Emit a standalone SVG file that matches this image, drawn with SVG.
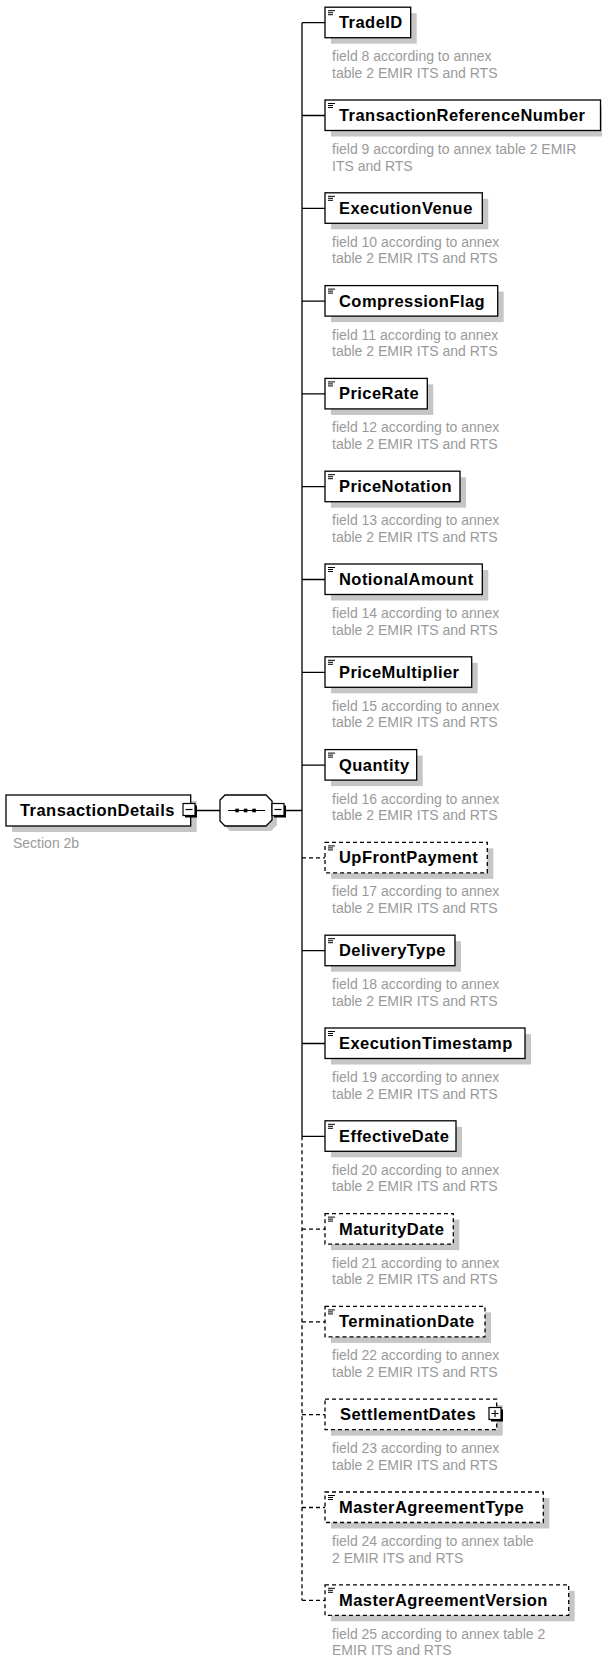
<svg xmlns="http://www.w3.org/2000/svg" xmlns:xlink="http://www.w3.org/1999/xlink" width="602" height="1658" viewBox="0 0 602 1658">
<style>
.bx{fill:#fff;stroke:#000;stroke-width:1.3}
.opt{stroke-dasharray:4 3}
.sh{fill:#c6c6c6}
.nm{font-family:"Liberation Sans",Arial,sans-serif;font-weight:bold;font-size:16.5px;letter-spacing:0.45px;fill:#000}
.ds{font-family:"Liberation Sans",Arial,sans-serif;font-size:14px;fill:#9a9a9a}
.ln{fill:none;stroke:#000;stroke-width:1.3}
.dl{fill:none;stroke:#000;stroke-width:1.3;stroke-dasharray:4 3}
</style>
<defs>
<path id="ic" d="M0 0.5h7M0 2.5h5M0 4.5h5" stroke="#000" stroke-width="1" fill="none"/>
<g id="mn"><rect x="2" y="2" width="12" height="12" fill="#000"/><rect x="0" y="0" width="12" height="12" fill="#fff" stroke="#000" stroke-width="1.2"/><path d="M2.5 6h7" stroke="#000" stroke-width="1.2"/></g>
<g id="pl"><rect x="2" y="2" width="12" height="12" fill="#000"/><rect x="0" y="0" width="12" height="12" fill="#fff" stroke="#000" stroke-width="1.2"/><path d="M2.5 6h7M6 2.5v7" stroke="#000" stroke-width="1.2"/></g>
</defs>
<g id="connectors">
<path class="ln" d="M197 810.5H220M286 810.5H302M302 22.7V1136.3"/>
<path class="dl" d="M302 1136.3V1600.3"/>
<path class="ln" d="M302 22.7H325M302 115.5H325M302 208.3H325M302 301.1H325M302 393.9H325M302 486.7H325M302 579.5H325M302 672.3H325M302 765.1H325M302 950.7H325M302 1043.5H325M302 1136.3H325"/>
<path class="dl" d="M302 857.9H325M302 1229.1H325M302 1321.9H325M302 1414.7H325M302 1507.5H325M302 1600.3H325"/>
</g>
<g id="TransactionDetails">
<rect class="sh" x="12" y="801" width="184.7" height="31"/>
<rect class="bx" x="6" y="795" width="184.7" height="31"/>
<text class="nm" x="20" y="816">TransactionDetails</text>
<use xlink:href="#mn" x="183" y="803.5"/>
<text class="ds" x="13" y="848">Section 2b</text>
</g>
<g id="sequence">
<polygon class="sh" points="225,800 230,800 271,800 277,806 277,825 271,831 230,831 225,826"/>
<polygon class="bx" points="220,800 225,795 266,795 272,801 272,820 266,826 225,826 220,821"/>
<path d="M228 810.5H265" stroke="#000" stroke-width="1.2"/>
<rect x="235.3" y="808.7" width="3.6" height="3.6" fill="#000"/>
<rect x="243.8" y="808.7" width="3.6" height="3.6" fill="#000"/>
<rect x="252.3" y="808.7" width="3.6" height="3.6" fill="#000"/>
<use xlink:href="#mn" x="272" y="803.5"/>
</g>
<g id="TradeID">
<rect class="sh" x="331" y="13.2" width="85.7" height="30.5"/>
<rect class="bx" x="325" y="7.2" width="85.7" height="30.5"/>
<use xlink:href="#ic" x="328" y="10.2"/>
<text class="nm" x="339" y="28.2">TradeID</text>
<text class="ds" x="332" y="61.2">field 8 according to annex</text>
<text class="ds" x="332" y="77.7">table 2 EMIR ITS and RTS</text>
</g>
<g id="TransactionReferenceNumber">
<rect class="sh" x="331" y="106" width="275.5" height="30.5"/>
<rect class="bx" x="325" y="100" width="275.5" height="30.5"/>
<use xlink:href="#ic" x="328" y="103"/>
<text class="nm" x="339" y="121">TransactionReferenceNumber</text>
<text class="ds" x="332" y="154">field 9 according to annex table 2 EMIR</text>
<text class="ds" x="332" y="170.5">ITS and RTS</text>
</g>
<g id="ExecutionVenue">
<rect class="sh" x="331" y="198.8" width="157.3" height="30.5"/>
<rect class="bx" x="325" y="192.8" width="157.3" height="30.5"/>
<use xlink:href="#ic" x="328" y="195.8"/>
<text class="nm" x="339" y="213.8">ExecutionVenue</text>
<text class="ds" x="332" y="246.8">field 10 according to annex</text>
<text class="ds" x="332" y="263.3">table 2 EMIR ITS and RTS</text>
</g>
<g id="CompressionFlag">
<rect class="sh" x="331" y="291.6" width="172.7" height="30.5"/>
<rect class="bx" x="325" y="285.6" width="172.7" height="30.5"/>
<use xlink:href="#ic" x="328" y="288.6"/>
<text class="nm" x="339" y="306.6">CompressionFlag</text>
<text class="ds" x="332" y="339.6">field 11 according to annex</text>
<text class="ds" x="332" y="356.1">table 2 EMIR ITS and RTS</text>
</g>
<g id="PriceRate">
<rect class="sh" x="331" y="384.4" width="102.3" height="30.5"/>
<rect class="bx" x="325" y="378.4" width="102.3" height="30.5"/>
<use xlink:href="#ic" x="328" y="381.4"/>
<text class="nm" x="339" y="399.4">PriceRate</text>
<text class="ds" x="332" y="432.4">field 12 according to annex</text>
<text class="ds" x="332" y="448.9">table 2 EMIR ITS and RTS</text>
</g>
<g id="PriceNotation">
<rect class="sh" x="331" y="477.2" width="135" height="30.5"/>
<rect class="bx" x="325" y="471.2" width="135" height="30.5"/>
<use xlink:href="#ic" x="328" y="474.2"/>
<text class="nm" x="339" y="492.2">PriceNotation</text>
<text class="ds" x="332" y="525.2">field 13 according to annex</text>
<text class="ds" x="332" y="541.7">table 2 EMIR ITS and RTS</text>
</g>
<g id="NotionalAmount">
<rect class="sh" x="331" y="570" width="157.3" height="30.5"/>
<rect class="bx" x="325" y="564" width="157.3" height="30.5"/>
<use xlink:href="#ic" x="328" y="567"/>
<text class="nm" x="339" y="585">NotionalAmount</text>
<text class="ds" x="332" y="618">field 14 according to annex</text>
<text class="ds" x="332" y="634.5">table 2 EMIR ITS and RTS</text>
</g>
<g id="PriceMultiplier">
<rect class="sh" x="331" y="662.8" width="146.7" height="30.5"/>
<rect class="bx" x="325" y="656.8" width="146.7" height="30.5"/>
<use xlink:href="#ic" x="328" y="659.8"/>
<text class="nm" x="339" y="677.8">PriceMultiplier</text>
<text class="ds" x="332" y="710.8">field 15 according to annex</text>
<text class="ds" x="332" y="727.3">table 2 EMIR ITS and RTS</text>
</g>
<g id="Quantity">
<rect class="sh" x="331" y="755.6" width="91.7" height="30.5"/>
<rect class="bx" x="325" y="749.6" width="91.7" height="30.5"/>
<use xlink:href="#ic" x="328" y="752.6"/>
<text class="nm" x="339" y="770.6">Quantity</text>
<text class="ds" x="332" y="803.6">field 16 according to annex</text>
<text class="ds" x="332" y="820.1">table 2 EMIR ITS and RTS</text>
</g>
<g id="UpFrontPayment">
<rect class="sh" x="331" y="848.4" width="162.3" height="30.5"/>
<rect class="bx opt" x="325" y="842.4" width="162.3" height="30.5"/>
<use xlink:href="#ic" x="328" y="845.4"/>
<text class="nm" x="339" y="863.4">UpFrontPayment</text>
<text class="ds" x="332" y="896.4">field 17 according to annex</text>
<text class="ds" x="332" y="912.9">table 2 EMIR ITS and RTS</text>
</g>
<g id="DeliveryType">
<rect class="sh" x="331" y="941.2" width="130" height="30.5"/>
<rect class="bx" x="325" y="935.2" width="130" height="30.5"/>
<use xlink:href="#ic" x="328" y="938.2"/>
<text class="nm" x="339" y="956.2">DeliveryType</text>
<text class="ds" x="332" y="989.2">field 18 according to annex</text>
<text class="ds" x="332" y="1005.7">table 2 EMIR ITS and RTS</text>
</g>
<g id="ExecutionTimestamp">
<rect class="sh" x="331" y="1034" width="200" height="30.5"/>
<rect class="bx" x="325" y="1028" width="200" height="30.5"/>
<use xlink:href="#ic" x="328" y="1031"/>
<text class="nm" x="339" y="1049">ExecutionTimestamp</text>
<text class="ds" x="332" y="1082">field 19 according to annex</text>
<text class="ds" x="332" y="1098.5">table 2 EMIR ITS and RTS</text>
</g>
<g id="EffectiveDate">
<rect class="sh" x="331" y="1126.8" width="131" height="30.5"/>
<rect class="bx" x="325" y="1120.8" width="131" height="30.5"/>
<use xlink:href="#ic" x="328" y="1123.8"/>
<text class="nm" x="339" y="1141.8">EffectiveDate</text>
<text class="ds" x="332" y="1174.8">field 20 according to annex</text>
<text class="ds" x="332" y="1191.3">table 2 EMIR ITS and RTS</text>
</g>
<g id="MaturityDate">
<rect class="sh" x="331" y="1219.6" width="128.3" height="30.5"/>
<rect class="bx opt" x="325" y="1213.6" width="128.3" height="30.5"/>
<use xlink:href="#ic" x="328" y="1216.6"/>
<text class="nm" x="339" y="1234.6">MaturityDate</text>
<text class="ds" x="332" y="1267.6">field 21 according to annex</text>
<text class="ds" x="332" y="1284.1">table 2 EMIR ITS and RTS</text>
</g>
<g id="TerminationDate">
<rect class="sh" x="331" y="1312.4" width="160" height="30.5"/>
<rect class="bx opt" x="325" y="1306.4" width="160" height="30.5"/>
<use xlink:href="#ic" x="328" y="1309.4"/>
<text class="nm" x="339" y="1327.4">TerminationDate</text>
<text class="ds" x="332" y="1360.4">field 22 according to annex</text>
<text class="ds" x="332" y="1376.9">table 2 EMIR ITS and RTS</text>
</g>
<g id="SettlementDates">
<rect class="sh" x="331" y="1405.2" width="171.7" height="30.5"/>
<rect class="bx opt" x="325" y="1399.2" width="171.7" height="30.5"/>
<text class="nm" x="340" y="1420.2">SettlementDates</text>
<use xlink:href="#pl" x="489" y="1407.5"/>
<text class="ds" x="332" y="1453.2">field 23 according to annex</text>
<text class="ds" x="332" y="1469.7">table 2 EMIR ITS and RTS</text>
</g>
<g id="MasterAgreementType">
<rect class="sh" x="331" y="1498" width="218.3" height="30.5"/>
<rect class="bx opt" x="325" y="1492" width="218.3" height="30.5"/>
<use xlink:href="#ic" x="328" y="1495"/>
<text class="nm" x="339" y="1513">MasterAgreementType</text>
<text class="ds" x="332" y="1546">field 24 according to annex table</text>
<text class="ds" x="332" y="1562.5">2 EMIR ITS and RTS</text>
</g>
<g id="MasterAgreementVersion">
<rect class="sh" x="331" y="1590.8" width="243.7" height="30.5"/>
<rect class="bx opt" x="325" y="1584.8" width="243.7" height="30.5"/>
<use xlink:href="#ic" x="328" y="1587.8"/>
<text class="nm" x="339" y="1605.8">MasterAgreementVersion</text>
<text class="ds" x="332" y="1638.8">field 25 according to annex table 2</text>
<text class="ds" x="332" y="1655.3">EMIR ITS and RTS</text>
</g>
</svg>
